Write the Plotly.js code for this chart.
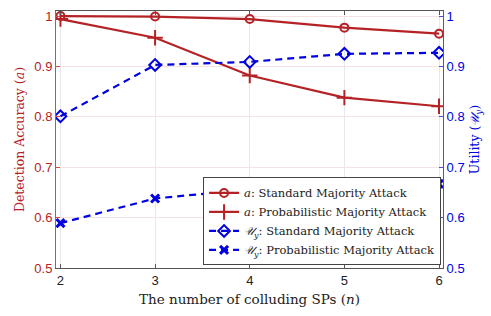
<!DOCTYPE html>
<html><head><meta charset="utf-8">
<script src="https://cdn.plot.ly/plotly-3.0.1.min.js"></script>
<style>html,body{margin:0;padding:0;background:#fff}</style>
</head><body>
<div id="chart" style="width:491px;height:316px"></div>
<script>
const n = [2, 3, 4, 5, 6];
const accStandard = [1.0, 0.999, 0.994, 0.977, 0.965];
const accProb = [0.994, 0.957, 0.882, 0.838, 0.821];
const utilStandard = [0.801, 0.903, 0.909, 0.925, 0.927];
const utilProb = [0.589, 0.638, 0.656, 0.662, 0.667];
const yTicks = [0.5, 0.6, 0.7, 0.8, 0.9, 1];

const RED = '#b52226';
const BLUE = '#0000e0';
const SERIF = 'DejaVu Serif, serif';
const SANS = 'Liberation Sans, Arial, sans-serif';
const U = '<i>𝒰</i><sub><i>y</i></sub>';

const traces = [
  {x: n, y: accStandard, name: '<i>a</i>: Standard Majority Attack', mode: 'lines+markers',
   line: {color: RED, width: 2.2}, marker: {symbol: 'circle-open', size: 8, color: RED, line: {width: 2}}},
  {x: n, y: accProb, name: '<i>a</i>: Probabilistic Majority Attack', mode: 'lines+markers',
   line: {color: RED, width: 2.2}, marker: {symbol: 'cross-thin-open', size: 11, color: RED, line: {width: 2, color: RED}}},
  {x: n, y: utilStandard, name: U + ': Standard Majority Attack', mode: 'lines+markers', yaxis: 'y2',
   line: {color: BLUE, width: 2.2, dash: '7px,5px'}, marker: {symbol: 'diamond-open', size: 9, color: BLUE, line: {width: 2}}},
  {x: n, y: utilProb, name: U + ': Probabilistic Majority Attack', mode: 'lines+markers', yaxis: 'y2',
   line: {color: BLUE, width: 2.2, dash: '7px,5px'}, marker: {symbol: 'x-thin-open', size: 8, color: BLUE, line: {width: 3, color: BLUE}}}
];

const layout = {
  width: 491, height: 316,
  margin: {l: 55.5, r: 47.5, t: 11, b: 47.5},
  paper_bgcolor: '#fff', plot_bgcolor: '#fff',
  showlegend: true,
  xaxis: {
    range: [1.953, 6.042], tickvals: n, ticktext: n.map(String),
    showgrid: true, gridcolor: '#e8e8e8', gridwidth: 1,
    showline: true, linecolor: '#555', linewidth: 1, mirror: 'ticks',
    ticks: 'inside', ticklen: 4, tickcolor: '#555',
    tickfont: {family: SANS, size: 13, color: '#222'},
    zeroline: false,
    title: {text: 'The number of colluding SPs (<i>n</i>)', font: {family: SERIF, size: 13.5, color: '#222'}, standoff: 7}
  },
  yaxis: {
    range: [0.5, 1.01], tickvals: yTicks, ticktext: yTicks.map(String),
    showgrid: true, gridcolor: '#f5e2e2', gridwidth: 1,
    showline: true, linecolor: '#d24a4a', linewidth: 1,
    ticks: 'inside', ticklen: 4, tickcolor: '#d24a4a',
    tickfont: {family: SANS, size: 13, color: RED},
    zeroline: false,
    title: {text: 'Detection Accuracy (<i>a</i>)', font: {family: SERIF, size: 12.5, color: RED}, standoff: 6}
  },
  yaxis2: {
    overlaying: 'y', side: 'right',
    range: [0.5, 1.01], tickvals: yTicks, ticktext: yTicks.map(String),
    showgrid: false,
    showline: true, linecolor: '#4a4af0', linewidth: 1,
    ticks: 'inside', ticklen: 4, tickcolor: '#4a4af0',
    tickfont: {family: SANS, size: 13, color: BLUE},
    zeroline: false,
    title: {text: 'Utility (' + U + ')', font: {family: SERIF, size: 12.5, color: BLUE}, standoff: 6}
  },
  legend: {
    x: 0.995, xanchor: 'right', y: 0.01, yanchor: 'bottom',
    bgcolor: '#fff', bordercolor: '#444', borderwidth: 1,
    font: {family: SERIF, size: 11.5, color: '#222'},
    tracegroupgap: 0, itemwidth: 30
  }
};

Plotly.newPlot('chart', traces, layout, {displayModeBar: false, staticPlot: true});
</script>
</body></html>
